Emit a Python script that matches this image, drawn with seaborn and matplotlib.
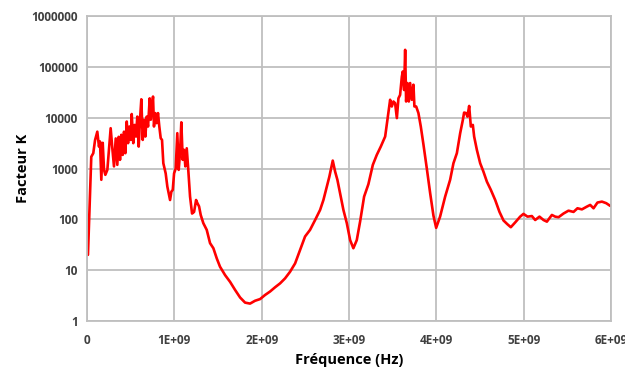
import numpy as np
import pandas as pd
import matplotlib
matplotlib.use("Agg")
import matplotlib.pyplot as plt
import matplotlib.ticker as mticker
import seaborn as sns

# Frequency (GHz) and K factor
freq_ghz = [0.011, 0.049, 0.072, 0.092, 0.118, 0.137, 0.149, 0.164, 0.180, 0.195,
            0.210, 0.233, 0.271, 0.290, 0.309, 0.329, 0.347, 0.363, 0.378, 0.393,
            0.409, 0.424, 0.439, 0.455, 0.470, 0.485, 0.501, 0.512, 0.530, 0.546,
            0.561, 0.576, 0.592, 0.607, 0.622, 0.638, 0.653, 0.668, 0.684, 0.699,
            0.718, 0.730, 0.745, 0.756, 0.767, 0.782, 0.798, 0.813, 0.828, 0.844,
            0.859, 0.874, 0.901, 0.920, 0.951, 0.966, 0.982, 0.997, 1.016, 1.034,
            1.050, 1.065, 1.080, 1.096, 1.111, 1.126, 1.142, 1.157, 1.180, 1.203,
            1.226, 1.249, 1.263, 1.283, 1.302, 1.332, 1.371, 1.409, 1.447, 1.486,
            1.523, 1.581, 1.638, 1.695, 1.753, 1.810, 1.867, 1.924, 1.982, 2.039,
            2.096, 2.153, 2.211, 2.268, 2.325, 2.383, 2.440, 2.497, 2.554, 2.612,
            2.669, 2.707, 2.746, 2.775, 2.814, 2.841, 2.867, 2.898, 2.936, 2.975,
            3.013, 3.050, 3.089, 3.127, 3.173, 3.222, 3.273, 3.318, 3.364, 3.414,
            3.440, 3.471, 3.490, 3.509, 3.528, 3.548, 3.566, 3.585, 3.605, 3.616,
            3.631, 3.643, 3.654, 3.669, 3.685, 3.700, 3.719, 3.738, 3.749, 3.769,
            3.795, 3.822, 3.852, 3.891, 3.929, 3.967, 3.998, 4.043, 4.101, 4.158,
            4.196, 4.235, 4.273, 4.304, 4.318, 4.341, 4.356, 4.376, 4.395, 4.418,
            4.433, 4.464, 4.502, 4.539, 4.579, 4.624, 4.674, 4.723, 4.769, 4.814,
            4.853, 4.903, 4.960, 4.998, 5.044, 5.094, 5.132, 5.181, 5.227, 5.266,
            5.323, 5.361, 5.399, 5.456, 5.513, 5.571, 5.616, 5.667, 5.724, 5.762,
            5.800, 5.845, 5.896, 5.945, 5.991]
k_factor = [20, 1700, 2000, 3600, 5300, 2700, 3400, 600, 3200, 940,
            750, 940, 6200, 2500, 1100, 3900, 1180, 4200, 1480, 4600,
            1850, 5300, 2000, 8400, 3150, 6700, 3650, 11800, 3150, 7200,
            4250, 10500, 2700, 9100, 23000, 3650, 9100, 4250, 10500, 6700,
            24000, 9100, 17800, 26000, 6700, 12300, 7800, 12300, 6700, 3950,
            3650, 1270, 800, 440, 240, 350, 380, 800, 1000, 4950,
            940, 2000, 8100, 1480, 2330, 1100, 2500, 1100, 280, 130,
            140, 240, 210, 180, 122, 84, 62, 34, 27, 17,
            11.7, 8.0, 5.9, 4.1, 2.9, 2.3, 2.2, 2.5, 2.7, 3.25,
            3.8, 4.6, 5.5, 6.9, 9.3, 13.6, 25, 46, 62, 97,
            153, 240, 440, 690, 1430, 870, 600, 325, 153, 84,
            39, 27, 39, 90, 280, 490, 1180, 1850, 2700, 4250,
            9100, 22500, 16600, 20800, 19300, 9800, 24000, 28000, 64000, 81000,
            35000, 216000, 20800, 48000, 20800, 48000, 22500, 44500, 16600, 16600,
            12300, 6700, 3000, 1000, 330, 118, 68, 113, 280, 600,
            1270, 2000, 4950, 9100, 12600, 12300, 10500, 17000, 6700, 7200,
            4250, 2330, 1270, 870, 550, 380, 240, 140, 95, 80,
            70, 87, 113, 128, 113, 116, 97, 113, 97, 90,
            122, 113, 110, 130, 148, 140, 165, 157, 178, 192,
            165, 214, 223, 208, 184]

x_ticks = [0, 1e9, 2e9, 3e9, 4e9, 5e9, 6e9]
x_tick_labels = ["0", "1E+09", "2E+09", "3E+09", "4E+09", "5E+09", "6E+09"]
y_ticks = [1, 10, 100, 1000, 10000, 100000, 1000000]
y_tick_labels = ["1", "10", "100", "1000", "10000", "100000", "1000000"]

df = pd.DataFrame({"freq": np.array(freq_ghz) * 1e9, "K": k_factor})

sns.set_style("white")
plt.rcParams["font.family"] = ["Open Sans", "DejaVu Sans"]

fig = plt.figure(figsize=(6.25, 3.67), dpi=100)
ax = fig.add_axes([87 / 625, 1 - 321 / 367, (611 - 87) / 625, (321 - 16) / 367])

sns.lineplot(data=df, x="freq", y="K", color="#FF0000", linewidth=1.9, ax=ax,
             estimator=None, sort=False)

ax.set_yscale("log")
ax.set_xlim(0, 6e9)
ax.set_ylim(1, 1e6)

grid_col = "#BFBFBF"
ax.set_xticks(x_ticks)
ax.set_xticklabels(x_tick_labels)
ax.set_yticks(y_ticks)
ax.set_yticklabels(y_tick_labels)
ax.yaxis.set_minor_locator(mticker.LogLocator(base=10, subs=np.arange(2, 10)))
ax.yaxis.set_minor_formatter(mticker.NullFormatter())
ax.grid(True, which="major", color=grid_col, linewidth=1.3)
ax.set_axisbelow(True)

for sp in ax.spines.values():
    sp.set_color(grid_col)
    sp.set_linewidth(1.3)

ax.tick_params(axis="x", which="both", length=0, pad=9, labelsize=8.5,
               labelcolor="#404040")
ax.tick_params(axis="y", which="major", length=5, width=1.2, color=grid_col,
               direction="inout", pad=4, labelsize=8.5, labelcolor="#404040")
ax.tick_params(axis="y", which="minor", length=4, width=1.0, color=grid_col,
               direction="inout")
for lab in ax.get_xticklabels() + ax.get_yticklabels():
    lab.set_fontweight("bold")

ax.set_xlabel("Fréquence (Hz)", fontsize=10.5, fontweight="bold", color="black",
              labelpad=5)
ax.set_ylabel("Facteur K", fontsize=10.5, fontweight="bold", color="black",
              labelpad=1)

fig.savefig("out.png", dpi=100)
